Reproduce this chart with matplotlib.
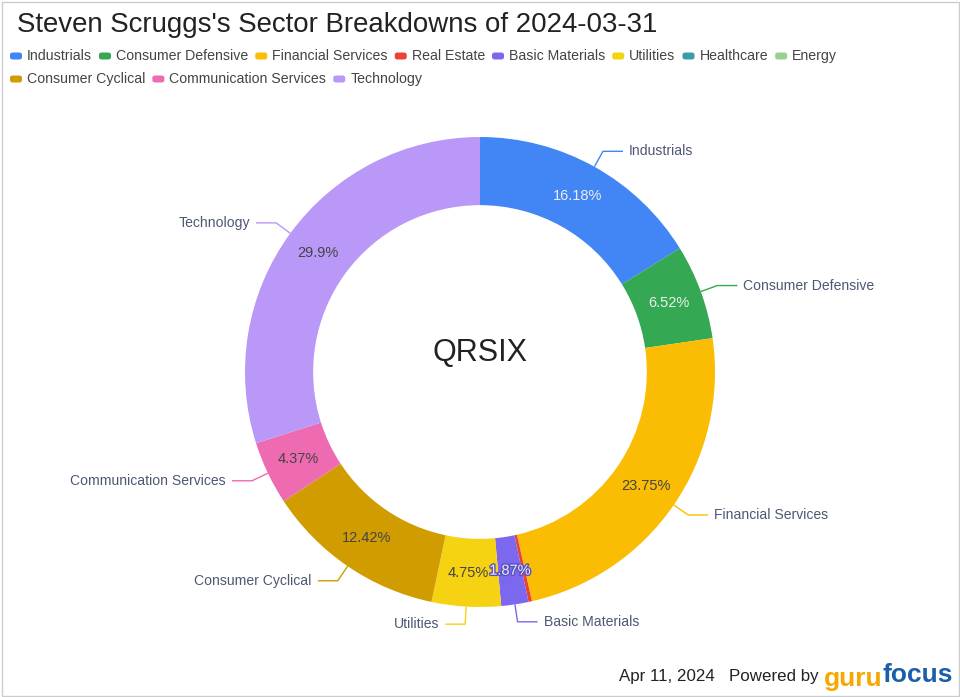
import matplotlib
matplotlib.use('Agg')
import matplotlib.pyplot as plt
from matplotlib.patches import FancyBboxPatch, Rectangle
import matplotlib.patheffects as pe
import numpy as np

plt.rcParams['font.family'] = ['Liberation Sans', 'DejaVu Sans']

title = "Steven Scruggs's Sector Breakdowns of 2024-03-31"
center_label = "QRSIX"
sectors = ["Industrials", "Consumer Defensive", "Financial Services", "Real Estate",
           "Basic Materials", "Utilities", "Healthcare", "Energy",
           "Consumer Cyclical", "Communication Services", "Technology"]
values = [16.18, 6.52, 23.75, 0.24, 1.87, 4.75, 0.0, 0.0, 12.42, 4.37, 29.9]
colors = ["#4285F4", "#34A853", "#FBBC04", "#EA4335", "#7B68EE", "#F5D313",
          "#3A9CA8", "#98D08F", "#D09C00", "#EE6BB2", "#B998F8"]
light_text = {"Industrials", "Consumer Defensive", "Basic Materials"}
legend_rows = [sectors[:8], sectors[8:]]
date_text = "Apr 11, 2024"

W, H = 960, 697
fig = plt.figure(figsize=(W / 100, H / 100), dpi=100)
ax = fig.add_axes([0, 0, 1, 1])
cx, cy, R = 480, 372, 235

wedges, _ = ax.pie(values, colors=colors, startangle=90, counterclock=False,
                   radius=1.0, wedgeprops=dict(width=0.29, linewidth=0))
ax.set_xlim((0 - cx) / R, (W - cx) / R)
ax.set_ylim((cy - H) / R, cy / R)
ax.set_aspect('auto')
ax.axis('off')

for w, name, val, col in zip(wedges, sectors, values, colors):
    if val < 1:
        continue
    th = np.deg2rad((w.theta1 + w.theta2) / 2)
    c, s = np.cos(th), np.sin(th)
    txt = f"{val:g}%" if name != "Technology" else f"{val:.1f}%"
    tcol = "#eeeeee" if name in light_text else "#444444"
    t = ax.text(0.855 * c, 0.855 * s, txt, ha='center', va='center', fontsize=10.5, color=tcol)
    if name == "Basic Materials":
        t.set_path_effects([pe.withStroke(linewidth=2, foreground="#5a4fc4")])
    x1, y1 = 1.0 * c, 1.0 * s
    x2, y2 = 1.075 * c, 1.075 * s
    sgn = 1 if c >= 0 else -1
    x3 = x2 + sgn * 20 / R
    ax.plot([x1, x2, x3], [y1, y2, y2], color=col, lw=1, solid_capstyle='butt')
    ax.text(x3 + sgn * 6 / R, y2, name, ha='left' if sgn > 0 else 'right', va='center',
            fontsize=10.1, color="#4e5873")

ax.text(0, 19 / R, center_label, ha='center', va='center', fontsize=22, color="#222222")

fig.text(17 / W, 1 - 25 / H, title, ha='left', va='center', fontsize=19.9, color="#222222")

renderer = fig.canvas.get_renderer()
row_y = [56, 79]
for row, yy in zip(legend_rows, row_y):
    x = 10
    for name in row:
        col = colors[sectors.index(name)]
        fig.patches.append(FancyBboxPatch((x / W, 1 - (yy + 3.5) / H), 12 / W, 7 / H,
                                          boxstyle="round,pad=0,rounding_size=0.003",
                                          transform=fig.transFigure, facecolor=col,
                                          edgecolor='none'))
        t = fig.text((x + 17) / W, 1 - yy / H, name, ha='left', va='center',
                     fontsize=10.2, color="#444444")
        bb = t.get_window_extent(renderer)
        x = bb.x1 + 7

ftxt = fig.text(953 / W, 1 - 675 / H, "focus", ha='right', va='center', fontsize=19,
                fontweight='bold', color="#1B5EAB")
bb = ftxt.get_window_extent(renderer)
gtxt = fig.text(bb.x0 / W, 1 - 679 / H, "guru", ha='right', va='center', fontsize=19,
                fontweight='bold', color="#F6A800")
bb2 = gtxt.get_window_extent(renderer)
fig.text((bb2.x0 - 5) / W, 1 - 677 / H, date_text + "   Powered by", ha='right', va='center',
         fontsize=12.2, color="#222222")

fig.patches.append(Rectangle((1.5 / W, 1.5 / H), (W - 3) / W, (H - 3) / H,
                             transform=fig.transFigure, fill=False,
                             edgecolor="#cccccc", lw=1))

fig.savefig("out.png", dpi=100)
